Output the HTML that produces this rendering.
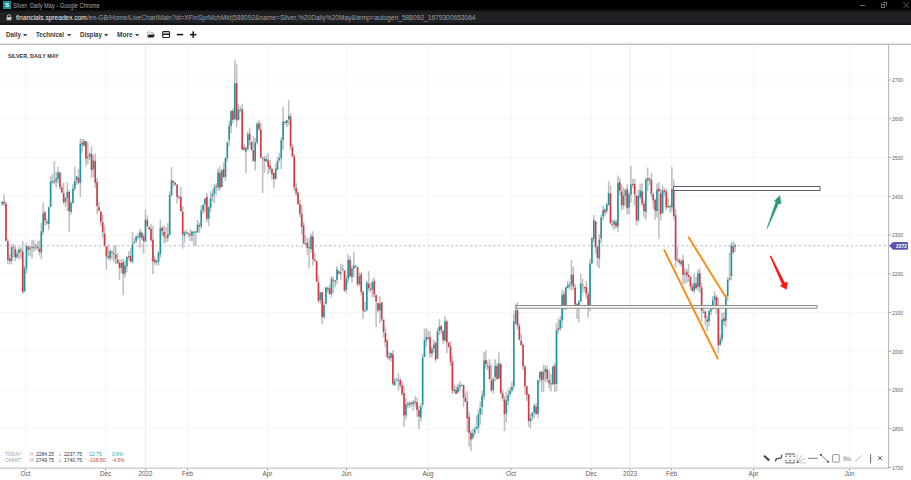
<!DOCTYPE html>
<html><head><meta charset="utf-8">
<style>
html,body{margin:0;padding:0;width:911px;height:480px;overflow:hidden;background:#fff;font-family:"Liberation Sans",sans-serif;}
.abs{position:absolute;}
#tb{left:0;top:0;width:911px;height:10px;background:#000;}
#ab{left:0;top:10px;width:911px;height:15px;background:#141517;}
#ab2{left:0;top:12px;width:911px;height:10.7px;background:#202124;}
.t{position:absolute;white-space:nowrap;line-height:1;}
</style></head><body>
<div id="tb" class="abs"></div>
<div id="ab" class="abs"></div>
<div id="ab2" class="abs"></div>
<!-- title -->
<div class="abs" style="left:3px;top:1.25px;width:7.5px;height:7.5px;background:#0f94a0;"></div>
<div class="t" style="left:4.9px;top:2.3px;font-size:6.2px;font-weight:bold;color:#f4f4f4;">S</div>
<div class="t" id="title" style="left:13px;top:2.7px;font-size:6.4px;font-weight:normal;color:#a8a8a8;transform:scaleX(0.8834);transform-origin:0 0;">Silver, Daily May - Google Chrome</div>
<!-- window controls -->
<div class="abs" style="left:859.5px;top:4.6px;width:5.5px;height:0.8px;background:#6e6e6e;"></div>
<div class="abs" style="left:881px;top:3.5px;width:4px;height:4px;border:0.8px solid #6e6e6e;box-sizing:border-box;"></div>
<div class="abs" style="left:882.5px;top:2.3px;width:4px;height:4px;border-top:0.8px solid #6e6e6e;border-right:0.8px solid #6e6e6e;box-sizing:border-box;"></div>
<svg class="abs" style="left:903px;top:2px" width="7" height="7"><path d="M0.5 0.5L6 6M6 0.5L0.5 6" stroke="#6e6e6e" stroke-width="0.8"/></svg>
<!-- lock -->
<svg class="abs" style="left:6px;top:14px" width="6" height="7"><path d="M1.4 3V2.2a1.6 1.6 0 0 1 3.2 0V3" fill="none" stroke="#c8c8c8" stroke-width="0.9"/><rect x="0.6" y="3" width="4.8" height="3.2" fill="#c8c8c8"/></svg>
<div class="t" id="url" style="left:16px;top:14.6px;font-size:6.8px;font-weight:normal;color:#9aa0a6;transform:scaleX(0.9720);transform-origin:0 0;"><span style="color:#f1f1f1">financials.spreadex.com</span>/en-GB/Home/LiveChartMain?id=XFinSprMchMkt|588092&amp;name=Silver,%20Daily%20May&amp;temp=autogen_588092_1679300653064</div>
<!-- toolbar -->
<div class="abs" style="left:0;top:42.4px;width:911px;height:1.8px;background:linear-gradient(#fff,#dedede);"></div><div class="abs" style="left:0;top:44px;width:911px;height:1px;background:#bdbdbd;"></div>
<div class="t" id="m0" style="left:6px;top:31.6px;font-size:6.6px;font-weight:bold;color:#3a3a3a;transform:scaleX(0.9451);transform-origin:0 0;">Daily</div><svg class="abs" style="left:23.4px;top:33.6px" width="5" height="3"><path d="M0 0H4.4L2.2 2.4Z" fill="#444"/></svg><div class="t" id="m1" style="left:36.2px;top:31.6px;font-size:6.6px;font-weight:bold;color:#3a3a3a;transform:scaleX(0.9353);transform-origin:0 0;">Technical</div><svg class="abs" style="left:66.9px;top:33.6px" width="5" height="3"><path d="M0 0H4.4L2.2 2.4Z" fill="#444"/></svg><div class="t" id="m2" style="left:79.6px;top:31.6px;font-size:6.6px;font-weight:bold;color:#3a3a3a;transform:scaleX(0.9374);transform-origin:0 0;">Display</div><svg class="abs" style="left:104.1px;top:33.6px" width="5" height="3"><path d="M0 0H4.4L2.2 2.4Z" fill="#444"/></svg><div class="t" id="m3" style="left:116.6px;top:31.6px;font-size:6.6px;font-weight:bold;color:#3a3a3a;transform:scaleX(0.9958);transform-origin:0 0;">More</div><svg class="abs" style="left:134.7px;top:33.6px" width="5" height="3"><path d="M0 0H4.4L2.2 2.4Z" fill="#444"/></svg><svg class="abs" style="left:146px;top:30px" width="60" height="10"><path d="M1.4 7V2H3.8L4.5 2.8H7.3V4.4" fill="none" stroke="#9a9a9a" stroke-width="0.8"/><path d="M2.6 4.4H9L7.4 7.4H1.4Z" fill="#222"/><rect x="16.7" y="1.6" width="6.8" height="5.9" rx="0.8" fill="none" stroke="#222" stroke-width="1.1"/><rect x="17" y="3.5" width="6.2" height="1.5" fill="#222"/><rect x="30.8" y="3.85" width="6.4" height="1.5" fill="#111"/><rect x="44" y="3.85" width="6.4" height="1.5" fill="#111"/><rect x="46.45" y="1.4" width="1.5" height="6.4" fill="#111"/></svg>
<!-- chart -->
<svg class="abs" style="left:0;top:0" width="911" height="480">
<rect x="0" y="428.25" width="888" height="1" fill="#f6f6f6"/><rect x="0" y="389.50" width="888" height="1" fill="#f6f6f6"/><rect x="0" y="350.75" width="888" height="1" fill="#f6f6f6"/><rect x="0" y="312.00" width="888" height="1" fill="#f6f6f6"/><rect x="0" y="273.25" width="888" height="1" fill="#f6f6f6"/><rect x="0" y="234.50" width="888" height="1" fill="#f6f6f6"/><rect x="0" y="195.75" width="888" height="1" fill="#f6f6f6"/><rect x="0" y="157.00" width="888" height="1" fill="#f6f6f6"/><rect x="0" y="118.25" width="888" height="1" fill="#f6f6f6"/><rect x="0" y="79.50" width="888" height="1" fill="#f6f6f6"/><rect x="25.0" y="45" width="1" height="422" fill="#f6f6f6"/><rect x="105.0" y="45" width="1" height="422" fill="#f6f6f6"/><rect x="145.0" y="45" width="1" height="422" fill="#ececec"/><rect x="187.0" y="45" width="1" height="422" fill="#f6f6f6"/><rect x="267.0" y="45" width="1" height="422" fill="#f6f6f6"/><rect x="346.0" y="45" width="1" height="422" fill="#f6f6f6"/><rect x="427.5" y="45" width="1" height="422" fill="#f6f6f6"/><rect x="510.5" y="45" width="1" height="422" fill="#f6f6f6"/><rect x="590.5" y="45" width="1" height="422" fill="#f6f6f6"/><rect x="629.5" y="45" width="1" height="422" fill="#ececec"/><rect x="671.0" y="45" width="1" height="422" fill="#f6f6f6"/><rect x="753.0" y="45" width="1" height="422" fill="#f6f6f6"/><rect x="849.0" y="45" width="1" height="422" fill="#f6f6f6"/><line x1="0" y1="245.8" x2="888" y2="245.8" stroke="#b3aee0" stroke-width="1" stroke-dasharray="2.2 2.5"/>
<g fill="#bdc0c3"><rect x="1.48" y="200.67" width="1.55" height="5.12"/><rect x="3.34" y="194.22" width="1.55" height="11.99"/><rect x="5.20" y="201.59" width="1.55" height="40.00"/><rect x="7.06" y="238.67" width="1.55" height="24.92"/><rect x="8.92" y="253.98" width="1.55" height="10.46"/><rect x="10.78" y="244.29" width="1.55" height="20.00"/><rect x="12.64" y="243.90" width="1.55" height="13.37"/><rect x="14.50" y="245.92" width="1.55" height="15.26"/><rect x="16.36" y="250.50" width="1.55" height="8.04"/><rect x="18.22" y="247.02" width="1.55" height="12.35"/><rect x="20.08" y="247.50" width="1.55" height="11.24"/><rect x="21.94" y="241.09" width="1.55" height="52.91"/><rect x="23.80" y="265.35" width="1.55" height="26.35"/><rect x="25.66" y="242.64" width="1.55" height="30.88"/><rect x="27.52" y="245.79" width="1.55" height="10.70"/><rect x="29.38" y="245.65" width="1.55" height="10.24"/><rect x="31.24" y="240.33" width="1.55" height="18.27"/><rect x="33.10" y="239.72" width="1.55" height="12.29"/><rect x="34.96" y="243.68" width="1.55" height="6.69"/><rect x="36.82" y="241.01" width="1.55" height="8.81"/><rect x="38.68" y="240.39" width="1.55" height="14.98"/><rect x="40.54" y="222.84" width="1.55" height="36.41"/><rect x="42.40" y="202.74" width="1.55" height="32.29"/><rect x="44.26" y="211.17" width="1.55" height="14.64"/><rect x="46.12" y="218.92" width="1.55" height="5.86"/><rect x="47.98" y="206.37" width="1.55" height="23.32"/><rect x="49.84" y="176.19" width="1.55" height="30.82"/><rect x="51.70" y="173.63" width="1.55" height="11.04"/><rect x="53.56" y="161.00" width="1.55" height="23.55"/><rect x="55.42" y="171.77" width="1.55" height="16.18"/><rect x="57.28" y="166.66" width="1.55" height="16.64"/><rect x="59.14" y="171.85" width="1.55" height="18.35"/><rect x="61.00" y="184.45" width="1.55" height="8.22"/><rect x="62.86" y="182.67" width="1.55" height="21.48"/><rect x="64.72" y="197.45" width="1.55" height="9.51"/><rect x="66.58" y="182.24" width="1.55" height="28.92"/><rect x="68.44" y="189.92" width="1.55" height="42.08"/><rect x="70.30" y="201.27" width="1.55" height="13.29"/><rect x="72.16" y="184.12" width="1.55" height="19.42"/><rect x="74.02" y="166.76" width="1.55" height="24.18"/><rect x="75.88" y="175.65" width="1.55" height="9.32"/><rect x="77.74" y="168.95" width="1.55" height="15.40"/><rect x="79.60" y="138.12" width="1.55" height="58.84"/><rect x="81.46" y="139.09" width="1.55" height="13.38"/><rect x="83.32" y="139.00" width="1.55" height="7.65"/><rect x="85.18" y="140.76" width="1.55" height="25.69"/><rect x="87.04" y="142.54" width="1.55" height="21.67"/><rect x="88.90" y="152.31" width="1.55" height="7.95"/><rect x="90.76" y="146.12" width="1.55" height="31.87"/><rect x="92.62" y="154.66" width="1.55" height="22.35"/><rect x="94.48" y="153.31" width="1.55" height="34.33"/><rect x="96.34" y="177.86" width="1.55" height="36.40"/><rect x="98.20" y="202.11" width="1.55" height="9.81"/><rect x="100.06" y="211.09" width="1.55" height="15.04"/><rect x="101.92" y="214.35" width="1.55" height="23.19"/><rect x="103.78" y="225.88" width="1.55" height="20.74"/><rect x="105.64" y="245.90" width="1.55" height="24.10"/><rect x="107.50" y="244.40" width="1.55" height="15.29"/><rect x="109.36" y="249.24" width="1.55" height="12.27"/><rect x="111.22" y="251.14" width="1.55" height="8.41"/><rect x="113.08" y="245.47" width="1.55" height="17.13"/><rect x="114.94" y="244.91" width="1.55" height="19.38"/><rect x="116.80" y="253.11" width="1.55" height="10.96"/><rect x="118.66" y="259.72" width="1.55" height="20.28"/><rect x="120.52" y="259.24" width="1.55" height="13.88"/><rect x="122.38" y="259.18" width="1.55" height="35.82"/><rect x="124.24" y="260.35" width="1.55" height="17.18"/><rect x="126.10" y="256.14" width="1.55" height="16.22"/><rect x="127.97" y="251.28" width="1.55" height="8.74"/><rect x="129.82" y="248.09" width="1.55" height="14.52"/><rect x="131.69" y="232.02" width="1.55" height="31.43"/><rect x="133.54" y="237.89" width="1.55" height="6.28"/><rect x="135.41" y="235.15" width="1.55" height="8.20"/><rect x="137.26" y="233.08" width="1.55" height="6.16"/><rect x="139.12" y="228.65" width="1.55" height="19.53"/><rect x="140.98" y="231.30" width="1.55" height="8.85"/><rect x="142.84" y="233.87" width="1.55" height="19.90"/><rect x="144.70" y="209.63" width="1.55" height="32.71"/><rect x="146.56" y="215.46" width="1.55" height="11.43"/><rect x="148.42" y="226.90" width="1.55" height="3.29"/><rect x="150.28" y="224.25" width="1.55" height="17.28"/><rect x="152.14" y="225.85" width="1.55" height="48.15"/><rect x="154.00" y="256.18" width="1.55" height="8.45"/><rect x="155.86" y="259.65" width="1.55" height="5.55"/><rect x="157.72" y="251.14" width="1.55" height="14.34"/><rect x="159.58" y="219.71" width="1.55" height="38.04"/><rect x="161.44" y="225.87" width="1.55" height="10.30"/><rect x="163.31" y="225.73" width="1.55" height="17.54"/><rect x="165.16" y="227.43" width="1.55" height="14.68"/><rect x="167.03" y="223.24" width="1.55" height="18.58"/><rect x="168.88" y="191.18" width="1.55" height="44.36"/><rect x="170.75" y="167.00" width="1.55" height="29.35"/><rect x="172.60" y="180.65" width="1.55" height="6.65"/><rect x="174.47" y="182.24" width="1.55" height="3.58"/><rect x="176.32" y="184.07" width="1.55" height="19.48"/><rect x="178.19" y="195.00" width="1.55" height="4.24"/><rect x="180.04" y="187.04" width="1.55" height="24.54"/><rect x="181.91" y="206.22" width="1.55" height="42.45"/><rect x="183.76" y="230.61" width="1.55" height="12.22"/><rect x="185.62" y="229.60" width="1.55" height="4.50"/><rect x="187.48" y="232.80" width="1.55" height="4.21"/><rect x="189.34" y="229.06" width="1.55" height="11.95"/><rect x="191.20" y="230.19" width="1.55" height="11.05"/><rect x="193.06" y="230.84" width="1.55" height="15.35"/><rect x="194.92" y="230.53" width="1.55" height="15.47"/><rect x="196.78" y="219.70" width="1.55" height="12.78"/><rect x="198.64" y="223.08" width="1.55" height="9.80"/><rect x="200.50" y="205.56" width="1.55" height="23.56"/><rect x="202.37" y="203.78" width="1.55" height="10.30"/><rect x="204.22" y="198.34" width="1.55" height="13.82"/><rect x="206.09" y="193.21" width="1.55" height="28.75"/><rect x="207.94" y="205.79" width="1.55" height="20.27"/><rect x="209.81" y="191.31" width="1.55" height="21.03"/><rect x="211.66" y="189.83" width="1.55" height="11.67"/><rect x="213.53" y="184.17" width="1.55" height="18.84"/><rect x="215.38" y="182.98" width="1.55" height="12.32"/><rect x="217.25" y="168.70" width="1.55" height="22.05"/><rect x="219.10" y="166.13" width="1.55" height="24.40"/><rect x="220.97" y="169.94" width="1.55" height="17.13"/><rect x="222.82" y="162.66" width="1.55" height="14.76"/><rect x="224.69" y="157.55" width="1.55" height="23.44"/><rect x="226.54" y="141.54" width="1.55" height="20.11"/><rect x="228.41" y="120.79" width="1.55" height="25.40"/><rect x="230.26" y="110.33" width="1.55" height="22.89"/><rect x="232.12" y="108.46" width="1.55" height="14.73"/><rect x="233.98" y="60.00" width="1.55" height="59.51"/><rect x="235.84" y="64.00" width="1.55" height="63.48"/><rect x="237.70" y="103.99" width="1.55" height="16.46"/><rect x="239.56" y="106.56" width="1.55" height="5.87"/><rect x="241.43" y="103.72" width="1.55" height="46.31"/><rect x="243.28" y="143.59" width="1.55" height="7.48"/><rect x="245.15" y="146.32" width="1.55" height="26.68"/><rect x="247.00" y="131.35" width="1.55" height="18.58"/><rect x="248.87" y="127.45" width="1.55" height="18.14"/><rect x="250.72" y="140.84" width="1.55" height="9.41"/><rect x="252.59" y="135.80" width="1.55" height="26.24"/><rect x="254.44" y="137.98" width="1.55" height="32.40"/><rect x="256.31" y="121.60" width="1.55" height="22.99"/><rect x="258.17" y="119.93" width="1.55" height="11.41"/><rect x="260.03" y="122.49" width="1.55" height="35.57"/><rect x="261.89" y="157.16" width="1.55" height="35.84"/><rect x="263.75" y="155.80" width="1.55" height="17.02"/><rect x="265.61" y="155.63" width="1.55" height="6.17"/><rect x="267.47" y="153.33" width="1.55" height="20.99"/><rect x="269.33" y="159.54" width="1.55" height="12.85"/><rect x="271.19" y="168.22" width="1.55" height="11.67"/><rect x="273.05" y="172.70" width="1.55" height="15.30"/><rect x="274.91" y="163.30" width="1.55" height="16.36"/><rect x="276.77" y="156.72" width="1.55" height="13.42"/><rect x="278.62" y="152.84" width="1.55" height="9.14"/><rect x="280.49" y="137.04" width="1.55" height="32.00"/><rect x="282.35" y="107.05" width="1.55" height="42.85"/><rect x="284.21" y="120.90" width="1.55" height="4.22"/><rect x="286.07" y="119.94" width="1.55" height="7.05"/><rect x="287.93" y="100.00" width="1.55" height="24.88"/><rect x="289.79" y="112.99" width="1.55" height="37.31"/><rect x="291.65" y="143.98" width="1.55" height="13.01"/><rect x="293.51" y="154.06" width="1.55" height="36.69"/><rect x="295.37" y="183.19" width="1.55" height="13.13"/><rect x="297.23" y="191.79" width="1.55" height="13.11"/><rect x="299.09" y="199.70" width="1.55" height="17.81"/><rect x="300.95" y="204.68" width="1.55" height="29.69"/><rect x="302.81" y="221.61" width="1.55" height="22.61"/><rect x="304.67" y="235.21" width="1.55" height="9.95"/><rect x="306.53" y="237.49" width="1.55" height="17.47"/><rect x="308.39" y="238.41" width="1.55" height="29.59"/><rect x="310.25" y="233.30" width="1.55" height="19.26"/><rect x="312.11" y="231.31" width="1.55" height="34.09"/><rect x="313.97" y="252.72" width="1.55" height="9.14"/><rect x="315.83" y="260.39" width="1.55" height="22.05"/><rect x="317.69" y="275.29" width="1.55" height="27.62"/><rect x="319.55" y="291.63" width="1.55" height="12.46"/><rect x="321.41" y="291.82" width="1.55" height="32.18"/><rect x="323.27" y="301.59" width="1.55" height="17.27"/><rect x="325.13" y="287.12" width="1.55" height="17.75"/><rect x="326.99" y="286.61" width="1.55" height="5.98"/><rect x="328.85" y="284.66" width="1.55" height="9.73"/><rect x="330.71" y="276.40" width="1.55" height="21.17"/><rect x="332.57" y="276.25" width="1.55" height="16.87"/><rect x="334.43" y="279.81" width="1.55" height="7.51"/><rect x="336.29" y="266.11" width="1.55" height="17.96"/><rect x="338.15" y="270.30" width="1.55" height="4.40"/><rect x="340.01" y="263.56" width="1.55" height="16.55"/><rect x="341.87" y="264.39" width="1.55" height="7.16"/><rect x="343.73" y="270.47" width="1.55" height="21.41"/><rect x="345.59" y="275.42" width="1.55" height="17.79"/><rect x="347.45" y="254.00" width="1.55" height="29.51"/><rect x="349.31" y="256.45" width="1.55" height="20.63"/><rect x="351.17" y="266.09" width="1.55" height="16.35"/><rect x="353.03" y="252.00" width="1.55" height="25.16"/><rect x="354.89" y="264.75" width="1.55" height="2.81"/><rect x="356.75" y="266.82" width="1.55" height="19.67"/><rect x="358.61" y="272.49" width="1.55" height="13.58"/><rect x="360.47" y="272.30" width="1.55" height="23.14"/><rect x="362.33" y="291.00" width="1.55" height="28.04"/><rect x="364.19" y="301.87" width="1.55" height="9.93"/><rect x="366.05" y="280.92" width="1.55" height="29.72"/><rect x="367.91" y="271.21" width="1.55" height="20.32"/><rect x="369.77" y="282.98" width="1.55" height="9.60"/><rect x="371.63" y="279.24" width="1.55" height="18.25"/><rect x="373.49" y="277.49" width="1.55" height="19.86"/><rect x="375.35" y="294.72" width="1.55" height="32.28"/><rect x="377.21" y="302.75" width="1.55" height="9.48"/><rect x="379.07" y="296.32" width="1.55" height="27.17"/><rect x="380.93" y="301.95" width="1.55" height="19.54"/><rect x="382.79" y="318.44" width="1.55" height="19.09"/><rect x="384.65" y="327.22" width="1.55" height="20.18"/><rect x="386.51" y="339.16" width="1.55" height="20.11"/><rect x="388.37" y="351.84" width="1.55" height="8.48"/><rect x="390.23" y="352.91" width="1.55" height="8.73"/><rect x="392.09" y="350.26" width="1.55" height="35.63"/><rect x="393.95" y="377.74" width="1.55" height="7.66"/><rect x="395.81" y="377.46" width="1.55" height="3.55"/><rect x="397.67" y="373.55" width="1.55" height="16.92"/><rect x="399.53" y="377.68" width="1.55" height="10.10"/><rect x="401.39" y="380.76" width="1.55" height="15.15"/><rect x="403.25" y="385.44" width="1.55" height="41.56"/><rect x="405.11" y="398.05" width="1.55" height="21.37"/><rect x="406.97" y="401.71" width="1.55" height="6.03"/><rect x="408.83" y="400.94" width="1.55" height="6.93"/><rect x="410.69" y="401.46" width="1.55" height="5.44"/><rect x="412.55" y="400.01" width="1.55" height="10.58"/><rect x="414.41" y="396.42" width="1.55" height="10.22"/><rect x="416.27" y="397.85" width="1.55" height="19.02"/><rect x="418.13" y="405.63" width="1.55" height="23.41"/><rect x="419.99" y="403.34" width="1.55" height="18.42"/><rect x="421.85" y="353.74" width="1.55" height="53.53"/><rect x="423.71" y="328.75" width="1.55" height="28.46"/><rect x="425.57" y="328.10" width="1.55" height="18.51"/><rect x="427.43" y="330.61" width="1.55" height="9.00"/><rect x="429.29" y="331.15" width="1.55" height="26.70"/><rect x="431.15" y="346.06" width="1.55" height="11.16"/><rect x="433.01" y="339.96" width="1.55" height="12.25"/><rect x="434.87" y="341.80" width="1.55" height="20.29"/><rect x="436.73" y="328.29" width="1.55" height="30.66"/><rect x="438.59" y="319.00" width="1.55" height="16.27"/><rect x="440.45" y="325.29" width="1.55" height="8.47"/><rect x="442.31" y="329.46" width="1.55" height="14.45"/><rect x="444.17" y="315.92" width="1.55" height="25.49"/><rect x="446.03" y="319.80" width="1.55" height="33.48"/><rect x="447.89" y="342.52" width="1.55" height="5.68"/><rect x="449.75" y="341.08" width="1.55" height="24.93"/><rect x="451.61" y="355.64" width="1.55" height="38.67"/><rect x="453.47" y="384.35" width="1.55" height="8.66"/><rect x="455.33" y="385.98" width="1.55" height="8.09"/><rect x="457.19" y="383.84" width="1.55" height="9.44"/><rect x="459.05" y="381.29" width="1.55" height="9.85"/><rect x="460.91" y="383.50" width="1.55" height="2.65"/><rect x="462.77" y="384.36" width="1.55" height="22.61"/><rect x="464.63" y="392.75" width="1.55" height="9.37"/><rect x="466.49" y="390.87" width="1.55" height="40.99"/><rect x="468.35" y="411.75" width="1.55" height="35.05"/><rect x="470.21" y="430.28" width="1.55" height="20.72"/><rect x="472.07" y="428.57" width="1.55" height="11.07"/><rect x="473.93" y="426.20" width="1.55" height="9.19"/><rect x="475.79" y="415.32" width="1.55" height="13.96"/><rect x="477.65" y="409.44" width="1.55" height="23.73"/><rect x="479.51" y="401.54" width="1.55" height="23.06"/><rect x="481.37" y="391.00" width="1.55" height="23.79"/><rect x="483.23" y="352.00" width="1.55" height="47.82"/><rect x="485.09" y="350.39" width="1.55" height="18.74"/><rect x="486.95" y="361.43" width="1.55" height="8.86"/><rect x="488.81" y="359.08" width="1.55" height="20.46"/><rect x="490.67" y="363.97" width="1.55" height="28.18"/><rect x="492.53" y="377.29" width="1.55" height="16.41"/><rect x="494.39" y="359.31" width="1.55" height="21.85"/><rect x="496.25" y="363.05" width="1.55" height="16.58"/><rect x="498.11" y="352.51" width="1.55" height="26.79"/><rect x="499.97" y="363.32" width="1.55" height="30.88"/><rect x="501.83" y="389.47" width="1.55" height="11.86"/><rect x="503.69" y="396.02" width="1.55" height="34.98"/><rect x="505.55" y="392.42" width="1.55" height="30.21"/><rect x="507.41" y="389.13" width="1.55" height="16.04"/><rect x="509.27" y="386.68" width="1.55" height="9.91"/><rect x="511.13" y="381.54" width="1.55" height="11.11"/><rect x="512.99" y="313.80" width="1.55" height="75.63"/><rect x="514.85" y="303.84" width="1.55" height="21.24"/><rect x="516.71" y="301.91" width="1.55" height="27.33"/><rect x="518.57" y="323.03" width="1.55" height="17.69"/><rect x="520.43" y="333.27" width="1.55" height="12.31"/><rect x="522.29" y="343.20" width="1.55" height="27.04"/><rect x="524.15" y="364.95" width="1.55" height="29.32"/><rect x="526.00" y="386.09" width="1.55" height="14.89"/><rect x="527.87" y="393.91" width="1.55" height="33.09"/><rect x="529.73" y="413.69" width="1.55" height="14.94"/><rect x="531.59" y="411.63" width="1.55" height="9.00"/><rect x="533.45" y="403.88" width="1.55" height="14.59"/><rect x="535.31" y="402.99" width="1.55" height="11.81"/><rect x="537.17" y="379.75" width="1.55" height="37.88"/><rect x="539.03" y="371.83" width="1.55" height="10.95"/><rect x="540.88" y="370.68" width="1.55" height="21.03"/><rect x="542.75" y="364.71" width="1.55" height="27.24"/><rect x="544.61" y="365.55" width="1.55" height="16.50"/><rect x="546.47" y="365.34" width="1.55" height="16.57"/><rect x="548.33" y="370.10" width="1.55" height="18.46"/><rect x="550.19" y="373.84" width="1.55" height="17.80"/><rect x="552.05" y="365.32" width="1.55" height="19.40"/><rect x="553.91" y="362.98" width="1.55" height="29.05"/><rect x="555.76" y="322.73" width="1.55" height="68.66"/><rect x="557.62" y="318.63" width="1.55" height="15.11"/><rect x="559.49" y="316.24" width="1.55" height="14.51"/><rect x="561.35" y="289.52" width="1.55" height="38.62"/><rect x="563.21" y="291.11" width="1.55" height="19.04"/><rect x="565.07" y="286.84" width="1.55" height="23.15"/><rect x="566.93" y="280.99" width="1.55" height="7.52"/><rect x="568.79" y="281.72" width="1.55" height="7.86"/><rect x="570.65" y="260.00" width="1.55" height="30.40"/><rect x="572.50" y="266.60" width="1.55" height="23.49"/><rect x="574.37" y="284.10" width="1.55" height="21.75"/><rect x="576.23" y="302.85" width="1.55" height="16.15"/><rect x="578.09" y="299.90" width="1.55" height="22.59"/><rect x="579.95" y="273.73" width="1.55" height="28.19"/><rect x="581.81" y="278.84" width="1.55" height="14.67"/><rect x="583.67" y="286.34" width="1.55" height="5.30"/><rect x="585.53" y="281.31" width="1.55" height="17.40"/><rect x="587.38" y="291.49" width="1.55" height="26.08"/><rect x="589.25" y="259.37" width="1.55" height="52.04"/><rect x="591.11" y="237.10" width="1.55" height="27.05"/><rect x="592.97" y="215.01" width="1.55" height="27.35"/><rect x="594.83" y="220.67" width="1.55" height="33.08"/><rect x="596.69" y="246.69" width="1.55" height="19.80"/><rect x="598.55" y="234.08" width="1.55" height="34.21"/><rect x="600.41" y="214.78" width="1.55" height="28.68"/><rect x="602.27" y="205.93" width="1.55" height="14.63"/><rect x="604.12" y="208.15" width="1.55" height="8.30"/><rect x="605.99" y="202.68" width="1.55" height="10.67"/><rect x="607.85" y="181.00" width="1.55" height="24.53"/><rect x="609.71" y="185.17" width="1.55" height="39.14"/><rect x="611.57" y="219.73" width="1.55" height="8.16"/><rect x="613.43" y="219.42" width="1.55" height="10.61"/><rect x="615.29" y="219.37" width="1.55" height="9.11"/><rect x="617.15" y="175.47" width="1.55" height="56.40"/><rect x="619.00" y="178.09" width="1.55" height="17.20"/><rect x="620.87" y="184.54" width="1.55" height="25.79"/><rect x="622.73" y="187.27" width="1.55" height="21.66"/><rect x="624.59" y="188.48" width="1.55" height="17.87"/><rect x="626.45" y="184.29" width="1.55" height="30.12"/><rect x="628.31" y="191.43" width="1.55" height="22.78"/><rect x="630.17" y="166.00" width="1.55" height="36.78"/><rect x="632.03" y="178.80" width="1.55" height="8.85"/><rect x="633.88" y="178.69" width="1.55" height="27.01"/><rect x="635.75" y="194.71" width="1.55" height="30.72"/><rect x="637.61" y="189.55" width="1.55" height="32.49"/><rect x="639.47" y="184.14" width="1.55" height="15.21"/><rect x="641.33" y="183.18" width="1.55" height="22.55"/><rect x="643.19" y="200.54" width="1.55" height="17.02"/><rect x="645.05" y="177.81" width="1.55" height="42.03"/><rect x="646.91" y="167.42" width="1.55" height="23.63"/><rect x="648.77" y="177.62" width="1.55" height="7.57"/><rect x="650.62" y="172.88" width="1.55" height="24.60"/><rect x="652.49" y="192.76" width="1.55" height="16.09"/><rect x="654.35" y="198.23" width="1.55" height="21.62"/><rect x="656.21" y="183.49" width="1.55" height="34.08"/><rect x="658.07" y="182.06" width="1.55" height="56.94"/><rect x="659.93" y="188.87" width="1.55" height="31.28"/><rect x="661.79" y="185.74" width="1.55" height="28.01"/><rect x="663.65" y="187.89" width="1.55" height="8.32"/><rect x="665.50" y="188.36" width="1.55" height="21.71"/><rect x="667.37" y="197.77" width="1.55" height="9.88"/><rect x="669.23" y="204.39" width="1.55" height="8.53"/><rect x="671.09" y="167.00" width="1.55" height="44.56"/><rect x="672.95" y="179.42" width="1.55" height="40.07"/><rect x="674.81" y="209.05" width="1.55" height="58.40"/><rect x="676.67" y="247.00" width="1.55" height="14.93"/><rect x="678.53" y="258.11" width="1.55" height="6.61"/><rect x="680.39" y="259.30" width="1.55" height="7.29"/><rect x="682.25" y="254.90" width="1.55" height="29.50"/><rect x="684.11" y="267.69" width="1.55" height="16.00"/><rect x="685.97" y="269.11" width="1.55" height="13.72"/><rect x="687.83" y="264.03" width="1.55" height="18.03"/><rect x="689.69" y="276.54" width="1.55" height="13.30"/><rect x="691.55" y="283.73" width="1.55" height="7.87"/><rect x="693.41" y="273.25" width="1.55" height="20.14"/><rect x="695.27" y="276.81" width="1.55" height="12.68"/><rect x="697.12" y="269.59" width="1.55" height="21.07"/><rect x="698.99" y="268.52" width="1.55" height="24.32"/><rect x="700.85" y="282.48" width="1.55" height="39.31"/><rect x="702.71" y="305.76" width="1.55" height="7.43"/><rect x="704.57" y="310.16" width="1.55" height="15.10"/><rect x="706.43" y="315.54" width="1.55" height="15.46"/><rect x="708.29" y="309.63" width="1.55" height="16.91"/><rect x="710.15" y="307.32" width="1.55" height="7.98"/><rect x="712.00" y="295.86" width="1.55" height="14.24"/><rect x="713.87" y="291.17" width="1.55" height="16.63"/><rect x="715.73" y="294.88" width="1.55" height="18.70"/><rect x="717.59" y="297.63" width="1.55" height="55.37"/><rect x="719.45" y="334.98" width="1.55" height="11.01"/><rect x="721.31" y="312.73" width="1.55" height="29.83"/><rect x="723.17" y="312.17" width="1.55" height="13.67"/><rect x="725.03" y="294.06" width="1.55" height="33.22"/><rect x="726.89" y="276.96" width="1.55" height="23.90"/><rect x="728.75" y="253.00" width="1.55" height="27.75"/><rect x="730.61" y="242.21" width="1.55" height="38.20"/><rect x="732.47" y="241.00" width="1.55" height="12.83"/><rect x="734.33" y="243.10" width="1.55" height="8.92"/></g><g fill="#17979f"><rect x="1.48" y="201.85" width="1.55" height="2.30"/><rect x="10.78" y="247.18" width="1.55" height="13.77"/><rect x="16.36" y="253.79" width="1.55" height="3.46"/><rect x="18.22" y="249.73" width="1.55" height="3.29"/><rect x="23.80" y="267.94" width="1.55" height="23.44"/><rect x="25.66" y="246.12" width="1.55" height="22.48"/><rect x="29.38" y="248.31" width="1.55" height="1.00"/><rect x="31.24" y="247.03" width="1.55" height="1.00"/><rect x="34.96" y="245.54" width="1.55" height="1.00"/><rect x="40.54" y="231.31" width="1.55" height="21.27"/><rect x="42.40" y="213.57" width="1.55" height="18.16"/><rect x="47.98" y="207.19" width="1.55" height="16.54"/><rect x="49.84" y="181.60" width="1.55" height="25.26"/><rect x="51.70" y="181.25" width="1.55" height="1.11"/><rect x="55.42" y="178.32" width="1.55" height="3.03"/><rect x="57.28" y="172.53" width="1.55" height="6.30"/><rect x="64.72" y="197.52" width="1.55" height="4.64"/><rect x="66.58" y="191.80" width="1.55" height="6.03"/><rect x="70.30" y="202.74" width="1.55" height="9.11"/><rect x="72.16" y="188.46" width="1.55" height="14.57"/><rect x="74.02" y="180.95" width="1.55" height="7.46"/><rect x="75.88" y="176.61" width="1.55" height="3.41"/><rect x="79.60" y="143.80" width="1.55" height="39.22"/><rect x="83.32" y="141.11" width="1.55" height="4.55"/><rect x="87.04" y="156.81" width="1.55" height="1.43"/><rect x="88.90" y="153.55" width="1.55" height="3.05"/><rect x="92.62" y="160.37" width="1.55" height="8.99"/><rect x="109.36" y="250.89" width="1.55" height="7.45"/><rect x="120.52" y="263.07" width="1.55" height="4.85"/><rect x="124.24" y="265.59" width="1.55" height="7.82"/><rect x="126.10" y="257.00" width="1.55" height="9.23"/><rect x="131.69" y="244.29" width="1.55" height="17.46"/><rect x="133.54" y="241.66" width="1.55" height="1.08"/><rect x="135.41" y="236.66" width="1.55" height="4.30"/><rect x="137.26" y="236.54" width="1.55" height="1.00"/><rect x="139.12" y="231.80" width="1.55" height="5.55"/><rect x="144.70" y="219.44" width="1.55" height="22.27"/><rect x="155.86" y="261.01" width="1.55" height="1.47"/><rect x="157.72" y="252.83" width="1.55" height="9.00"/><rect x="159.58" y="227.80" width="1.55" height="26.49"/><rect x="167.03" y="234.48" width="1.55" height="3.46"/><rect x="168.88" y="194.96" width="1.55" height="39.93"/><rect x="170.75" y="180.28" width="1.55" height="14.99"/><rect x="178.19" y="197.26" width="1.55" height="1.00"/><rect x="183.76" y="232.59" width="1.55" height="3.11"/><rect x="185.62" y="232.19" width="1.55" height="1.00"/><rect x="191.20" y="231.73" width="1.55" height="3.95"/><rect x="193.06" y="231.95" width="1.55" height="1.00"/><rect x="194.92" y="231.50" width="1.55" height="1.00"/><rect x="196.78" y="224.79" width="1.55" height="7.65"/><rect x="200.50" y="210.47" width="1.55" height="15.85"/><rect x="202.37" y="205.05" width="1.55" height="5.46"/><rect x="204.22" y="198.37" width="1.55" height="6.18"/><rect x="207.94" y="207.34" width="1.55" height="11.36"/><rect x="209.81" y="198.10" width="1.55" height="9.66"/><rect x="211.66" y="193.89" width="1.55" height="2.75"/><rect x="213.53" y="187.45" width="1.55" height="6.40"/><rect x="217.25" y="172.02" width="1.55" height="15.09"/><rect x="220.97" y="170.36" width="1.55" height="16.68"/><rect x="224.69" y="157.88" width="1.55" height="19.16"/><rect x="226.54" y="142.42" width="1.55" height="15.74"/><rect x="228.41" y="125.90" width="1.55" height="14.35"/><rect x="230.26" y="111.10" width="1.55" height="14.96"/><rect x="233.98" y="82.98" width="1.55" height="36.19"/><rect x="237.70" y="109.78" width="1.55" height="10.07"/><rect x="239.56" y="109.28" width="1.55" height="1.00"/><rect x="245.15" y="148.36" width="1.55" height="3.29"/><rect x="247.00" y="134.46" width="1.55" height="14.66"/><rect x="254.44" y="142.35" width="1.55" height="18.92"/><rect x="256.31" y="124.00" width="1.55" height="18.36"/><rect x="261.89" y="157.41" width="1.55" height="1.00"/><rect x="265.61" y="159.00" width="1.55" height="2.57"/><rect x="274.91" y="168.28" width="1.55" height="10.55"/><rect x="276.77" y="160.71" width="1.55" height="8.82"/><rect x="278.62" y="157.72" width="1.55" height="2.43"/><rect x="280.49" y="140.18" width="1.55" height="17.95"/><rect x="282.35" y="121.58" width="1.55" height="18.61"/><rect x="286.07" y="120.22" width="1.55" height="2.76"/><rect x="287.93" y="115.86" width="1.55" height="3.65"/><rect x="304.67" y="243.05" width="1.55" height="1.00"/><rect x="308.39" y="247.21" width="1.55" height="1.00"/><rect x="310.25" y="236.15" width="1.55" height="12.91"/><rect x="319.55" y="292.51" width="1.55" height="7.67"/><rect x="323.27" y="305.10" width="1.55" height="11.82"/><rect x="325.13" y="287.32" width="1.55" height="16.20"/><rect x="330.71" y="278.51" width="1.55" height="15.65"/><rect x="336.29" y="269.26" width="1.55" height="10.68"/><rect x="340.01" y="272.21" width="1.55" height="1.46"/><rect x="341.87" y="268.61" width="1.55" height="1.00"/><rect x="345.59" y="278.70" width="1.55" height="11.18"/><rect x="347.45" y="260.02" width="1.55" height="18.73"/><rect x="351.17" y="268.51" width="1.55" height="8.95"/><rect x="353.03" y="265.65" width="1.55" height="3.14"/><rect x="354.89" y="265.78" width="1.55" height="1.00"/><rect x="358.61" y="276.21" width="1.55" height="7.92"/><rect x="364.19" y="310.60" width="1.55" height="1.00"/><rect x="366.05" y="282.74" width="1.55" height="27.50"/><rect x="371.63" y="282.34" width="1.55" height="7.09"/><rect x="379.07" y="303.74" width="1.55" height="6.80"/><rect x="390.23" y="352.97" width="1.55" height="4.77"/><rect x="393.95" y="381.51" width="1.55" height="3.72"/><rect x="395.81" y="379.87" width="1.55" height="1.00"/><rect x="397.67" y="379.76" width="1.55" height="1.00"/><rect x="405.11" y="404.27" width="1.55" height="11.04"/><rect x="406.97" y="403.93" width="1.55" height="1.09"/><rect x="408.83" y="402.97" width="1.55" height="2.04"/><rect x="412.55" y="401.85" width="1.55" height="2.45"/><rect x="419.99" y="406.70" width="1.55" height="10.84"/><rect x="421.85" y="357.33" width="1.55" height="47.34"/><rect x="423.71" y="339.94" width="1.55" height="16.85"/><rect x="425.57" y="337.06" width="1.55" height="3.57"/><rect x="431.15" y="348.64" width="1.55" height="5.21"/><rect x="433.01" y="344.64" width="1.55" height="3.76"/><rect x="436.73" y="331.53" width="1.55" height="27.23"/><rect x="438.59" y="326.53" width="1.55" height="4.64"/><rect x="444.17" y="321.12" width="1.55" height="19.71"/><rect x="453.47" y="389.62" width="1.55" height="1.55"/><rect x="457.19" y="387.09" width="1.55" height="5.35"/><rect x="459.05" y="385.10" width="1.55" height="2.05"/><rect x="460.91" y="385.06" width="1.55" height="1.00"/><rect x="472.07" y="433.33" width="1.55" height="4.37"/><rect x="473.93" y="429.52" width="1.55" height="3.34"/><rect x="475.79" y="427.13" width="1.55" height="1.98"/><rect x="477.65" y="414.12" width="1.55" height="13.62"/><rect x="479.51" y="408.37" width="1.55" height="5.87"/><rect x="481.37" y="395.45" width="1.55" height="11.38"/><rect x="483.23" y="360.55" width="1.55" height="35.55"/><rect x="492.53" y="378.98" width="1.55" height="11.12"/><rect x="494.39" y="365.89" width="1.55" height="11.32"/><rect x="498.11" y="363.52" width="1.55" height="14.90"/><rect x="505.55" y="400.52" width="1.55" height="12.97"/><rect x="507.41" y="395.24" width="1.55" height="5.73"/><rect x="509.27" y="390.72" width="1.55" height="3.51"/><rect x="511.13" y="386.86" width="1.55" height="3.95"/><rect x="512.99" y="321.60" width="1.55" height="64.57"/><rect x="514.85" y="310.01" width="1.55" height="13.32"/><rect x="529.73" y="418.12" width="1.55" height="3.07"/><rect x="531.59" y="412.61" width="1.55" height="4.05"/><rect x="533.45" y="405.39" width="1.55" height="6.93"/><rect x="537.17" y="380.08" width="1.55" height="33.74"/><rect x="539.03" y="371.94" width="1.55" height="6.21"/><rect x="542.75" y="372.05" width="1.55" height="7.44"/><rect x="544.61" y="368.87" width="1.55" height="3.47"/><rect x="552.05" y="366.81" width="1.55" height="17.64"/><rect x="555.76" y="329.73" width="1.55" height="54.39"/><rect x="559.49" y="320.24" width="1.55" height="8.31"/><rect x="561.35" y="295.12" width="1.55" height="25.25"/><rect x="565.07" y="287.22" width="1.55" height="19.25"/><rect x="566.93" y="284.96" width="1.55" height="3.02"/><rect x="568.79" y="284.81" width="1.55" height="1.40"/><rect x="570.65" y="274.69" width="1.55" height="9.90"/><rect x="578.09" y="301.40" width="1.55" height="6.77"/><rect x="579.95" y="283.70" width="1.55" height="17.73"/><rect x="589.25" y="263.61" width="1.55" height="44.77"/><rect x="591.11" y="238.20" width="1.55" height="25.20"/><rect x="592.97" y="220.13" width="1.55" height="18.67"/><rect x="598.55" y="239.69" width="1.55" height="18.90"/><rect x="600.41" y="217.48" width="1.55" height="21.09"/><rect x="602.27" y="210.12" width="1.55" height="6.32"/><rect x="605.99" y="204.39" width="1.55" height="6.46"/><rect x="607.85" y="193.01" width="1.55" height="12.10"/><rect x="613.43" y="221.06" width="1.55" height="3.44"/><rect x="617.15" y="182.88" width="1.55" height="43.54"/><rect x="622.73" y="195.53" width="1.55" height="9.52"/><rect x="624.59" y="190.34" width="1.55" height="5.46"/><rect x="628.31" y="194.25" width="1.55" height="13.21"/><rect x="630.17" y="184.51" width="1.55" height="10.22"/><rect x="637.61" y="195.87" width="1.55" height="24.62"/><rect x="639.47" y="190.56" width="1.55" height="6.50"/><rect x="645.05" y="179.77" width="1.55" height="32.42"/><rect x="646.91" y="178.21" width="1.55" height="2.41"/><rect x="656.21" y="189.68" width="1.55" height="21.35"/><rect x="661.79" y="190.46" width="1.55" height="22.43"/><rect x="667.37" y="206.08" width="1.55" height="1.43"/><rect x="671.09" y="189.23" width="1.55" height="18.18"/><rect x="680.39" y="261.11" width="1.55" height="3.02"/><rect x="684.11" y="273.09" width="1.55" height="1.00"/><rect x="693.41" y="283.30" width="1.55" height="7.55"/><rect x="697.12" y="273.42" width="1.55" height="13.41"/><rect x="702.71" y="311.74" width="1.55" height="1.05"/><rect x="708.29" y="310.98" width="1.55" height="10.17"/><rect x="710.15" y="309.33" width="1.55" height="2.13"/><rect x="712.00" y="300.29" width="1.55" height="8.32"/><rect x="713.87" y="296.37" width="1.55" height="3.83"/><rect x="719.45" y="339.17" width="1.55" height="5.48"/><rect x="721.31" y="319.39" width="1.55" height="19.80"/><rect x="725.03" y="296.37" width="1.55" height="24.30"/><rect x="726.89" y="279.83" width="1.55" height="16.05"/><rect x="728.75" y="278.02" width="1.55" height="1.43"/><rect x="730.61" y="245.20" width="1.55" height="31.07"/><rect x="734.33" y="245.40" width="1.55" height="1.60"/></g><g fill="#d6343f"><rect x="3.34" y="201.68" width="1.55" height="1.77"/><rect x="5.20" y="203.64" width="1.55" height="36.98"/><rect x="7.06" y="241.31" width="1.55" height="18.69"/><rect x="8.92" y="258.61" width="1.55" height="2.38"/><rect x="12.64" y="247.34" width="1.55" height="1.00"/><rect x="14.50" y="249.14" width="1.55" height="8.19"/><rect x="20.08" y="249.72" width="1.55" height="1.00"/><rect x="21.94" y="251.56" width="1.55" height="40.47"/><rect x="27.52" y="246.41" width="1.55" height="3.33"/><rect x="33.10" y="247.22" width="1.55" height="1.00"/><rect x="36.82" y="246.74" width="1.55" height="1.59"/><rect x="38.68" y="248.68" width="1.55" height="3.47"/><rect x="44.26" y="212.12" width="1.55" height="8.38"/><rect x="46.12" y="221.79" width="1.55" height="1.42"/><rect x="53.56" y="181.14" width="1.55" height="1.03"/><rect x="59.14" y="172.64" width="1.55" height="14.57"/><rect x="61.00" y="187.43" width="1.55" height="5.24"/><rect x="62.86" y="193.12" width="1.55" height="9.34"/><rect x="68.44" y="191.99" width="1.55" height="19.33"/><rect x="77.74" y="177.80" width="1.55" height="4.72"/><rect x="81.46" y="142.64" width="1.55" height="2.06"/><rect x="85.18" y="141.22" width="1.55" height="17.26"/><rect x="90.76" y="154.06" width="1.55" height="16.07"/><rect x="94.48" y="160.97" width="1.55" height="21.79"/><rect x="96.34" y="181.85" width="1.55" height="24.15"/><rect x="98.20" y="207.25" width="1.55" height="3.22"/><rect x="100.06" y="211.59" width="1.55" height="10.23"/><rect x="101.92" y="222.14" width="1.55" height="10.09"/><rect x="103.78" y="233.43" width="1.55" height="12.25"/><rect x="105.64" y="246.50" width="1.55" height="10.06"/><rect x="107.50" y="256.34" width="1.55" height="1.34"/><rect x="111.22" y="251.55" width="1.55" height="1.10"/><rect x="113.08" y="253.22" width="1.55" height="1.00"/><rect x="114.94" y="254.67" width="1.55" height="3.99"/><rect x="116.80" y="259.51" width="1.55" height="3.31"/><rect x="118.66" y="262.80" width="1.55" height="5.09"/><rect x="122.38" y="262.07" width="1.55" height="11.81"/><rect x="127.97" y="256.08" width="1.55" height="1.00"/><rect x="129.82" y="256.06" width="1.55" height="5.40"/><rect x="140.98" y="232.85" width="1.55" height="4.87"/><rect x="142.84" y="236.31" width="1.55" height="4.86"/><rect x="146.56" y="220.17" width="1.55" height="6.25"/><rect x="148.42" y="227.08" width="1.55" height="2.10"/><rect x="150.28" y="228.89" width="1.55" height="11.50"/><rect x="152.14" y="239.72" width="1.55" height="21.77"/><rect x="154.00" y="259.41" width="1.55" height="2.72"/><rect x="161.44" y="227.94" width="1.55" height="3.16"/><rect x="163.31" y="231.94" width="1.55" height="4.34"/><rect x="165.16" y="236.89" width="1.55" height="1.00"/><rect x="172.60" y="180.91" width="1.55" height="1.90"/><rect x="174.47" y="182.81" width="1.55" height="1.82"/><rect x="176.32" y="184.77" width="1.55" height="12.23"/><rect x="180.04" y="196.90" width="1.55" height="14.37"/><rect x="181.91" y="211.86" width="1.55" height="22.58"/><rect x="187.48" y="232.91" width="1.55" height="1.00"/><rect x="189.34" y="234.38" width="1.55" height="1.00"/><rect x="198.64" y="224.94" width="1.55" height="1.36"/><rect x="206.09" y="196.76" width="1.55" height="21.98"/><rect x="215.38" y="186.25" width="1.55" height="1.00"/><rect x="219.10" y="172.95" width="1.55" height="14.95"/><rect x="222.82" y="169.09" width="1.55" height="8.20"/><rect x="232.12" y="110.85" width="1.55" height="9.00"/><rect x="235.84" y="83.21" width="1.55" height="37.23"/><rect x="241.43" y="109.45" width="1.55" height="39.95"/><rect x="243.28" y="147.49" width="1.55" height="2.29"/><rect x="248.87" y="133.60" width="1.55" height="6.71"/><rect x="250.72" y="142.00" width="1.55" height="8.15"/><rect x="252.59" y="150.17" width="1.55" height="10.53"/><rect x="258.17" y="123.44" width="1.55" height="5.41"/><rect x="260.03" y="129.42" width="1.55" height="28.16"/><rect x="263.75" y="158.50" width="1.55" height="2.44"/><rect x="267.47" y="160.43" width="1.55" height="6.52"/><rect x="269.33" y="165.65" width="1.55" height="3.44"/><rect x="271.19" y="168.85" width="1.55" height="5.38"/><rect x="273.05" y="173.07" width="1.55" height="5.94"/><rect x="284.21" y="121.70" width="1.55" height="1.00"/><rect x="289.79" y="116.37" width="1.55" height="30.01"/><rect x="291.65" y="146.62" width="1.55" height="9.83"/><rect x="293.51" y="156.42" width="1.55" height="30.73"/><rect x="295.37" y="187.75" width="1.55" height="5.24"/><rect x="297.23" y="192.55" width="1.55" height="11.57"/><rect x="299.09" y="204.37" width="1.55" height="9.55"/><rect x="300.95" y="213.92" width="1.55" height="12.97"/><rect x="302.81" y="225.48" width="1.55" height="18.06"/><rect x="306.53" y="242.81" width="1.55" height="5.08"/><rect x="312.11" y="236.59" width="1.55" height="22.73"/><rect x="313.97" y="259.51" width="1.55" height="1.29"/><rect x="315.83" y="261.17" width="1.55" height="20.50"/><rect x="317.69" y="282.52" width="1.55" height="18.27"/><rect x="321.41" y="292.20" width="1.55" height="24.71"/><rect x="326.99" y="288.03" width="1.55" height="1.41"/><rect x="328.85" y="288.19" width="1.55" height="6.10"/><rect x="332.57" y="279.82" width="1.55" height="1.00"/><rect x="334.43" y="280.72" width="1.55" height="1.00"/><rect x="338.15" y="271.36" width="1.55" height="2.01"/><rect x="343.73" y="270.50" width="1.55" height="20.06"/><rect x="349.31" y="259.91" width="1.55" height="16.39"/><rect x="356.75" y="266.98" width="1.55" height="17.09"/><rect x="360.47" y="274.50" width="1.55" height="17.42"/><rect x="362.33" y="291.63" width="1.55" height="19.17"/><rect x="367.91" y="283.64" width="1.55" height="4.43"/><rect x="369.77" y="288.47" width="1.55" height="1.19"/><rect x="373.49" y="281.11" width="1.55" height="13.35"/><rect x="375.35" y="295.14" width="1.55" height="6.38"/><rect x="377.21" y="302.78" width="1.55" height="7.54"/><rect x="380.93" y="302.16" width="1.55" height="17.17"/><rect x="382.79" y="319.86" width="1.55" height="12.20"/><rect x="384.65" y="332.89" width="1.55" height="9.18"/><rect x="386.51" y="340.51" width="1.55" height="16.47"/><rect x="388.37" y="356.42" width="1.55" height="1.85"/><rect x="392.09" y="354.33" width="1.55" height="29.38"/><rect x="399.53" y="380.15" width="1.55" height="5.34"/><rect x="401.39" y="385.31" width="1.55" height="8.48"/><rect x="403.25" y="393.13" width="1.55" height="22.31"/><rect x="410.69" y="402.91" width="1.55" height="1.00"/><rect x="414.41" y="401.62" width="1.55" height="1.00"/><rect x="416.27" y="401.99" width="1.55" height="7.84"/><rect x="418.13" y="410.18" width="1.55" height="6.40"/><rect x="427.43" y="337.17" width="1.55" height="1.48"/><rect x="429.29" y="337.30" width="1.55" height="15.87"/><rect x="434.87" y="342.68" width="1.55" height="16.85"/><rect x="440.45" y="326.11" width="1.55" height="4.05"/><rect x="442.31" y="331.03" width="1.55" height="9.01"/><rect x="446.03" y="321.54" width="1.55" height="20.78"/><rect x="447.89" y="342.59" width="1.55" height="4.16"/><rect x="449.75" y="346.41" width="1.55" height="15.75"/><rect x="451.61" y="361.67" width="1.55" height="28.97"/><rect x="455.33" y="389.78" width="1.55" height="4.04"/><rect x="462.77" y="385.29" width="1.55" height="12.54"/><rect x="464.63" y="397.82" width="1.55" height="3.98"/><rect x="466.49" y="401.67" width="1.55" height="16.64"/><rect x="468.35" y="416.85" width="1.55" height="16.03"/><rect x="470.21" y="432.98" width="1.55" height="6.52"/><rect x="485.09" y="359.82" width="1.55" height="4.12"/><rect x="486.95" y="365.49" width="1.55" height="1.01"/><rect x="488.81" y="365.90" width="1.55" height="13.24"/><rect x="490.67" y="380.19" width="1.55" height="10.16"/><rect x="496.25" y="365.94" width="1.55" height="13.05"/><rect x="499.97" y="363.95" width="1.55" height="29.34"/><rect x="501.83" y="393.30" width="1.55" height="4.99"/><rect x="503.69" y="399.34" width="1.55" height="14.78"/><rect x="516.71" y="310.34" width="1.55" height="15.29"/><rect x="518.57" y="325.71" width="1.55" height="13.96"/><rect x="520.43" y="340.71" width="1.55" height="4.54"/><rect x="522.29" y="344.80" width="1.55" height="21.34"/><rect x="524.15" y="366.65" width="1.55" height="19.55"/><rect x="526.00" y="386.26" width="1.55" height="8.89"/><rect x="527.87" y="394.28" width="1.55" height="26.69"/><rect x="535.31" y="406.54" width="1.55" height="7.38"/><rect x="540.88" y="371.46" width="1.55" height="8.93"/><rect x="546.47" y="369.37" width="1.55" height="9.74"/><rect x="548.33" y="380.20" width="1.55" height="3.00"/><rect x="550.19" y="383.22" width="1.55" height="1.00"/><rect x="553.91" y="365.75" width="1.55" height="17.95"/><rect x="557.62" y="328.21" width="1.55" height="1.33"/><rect x="563.21" y="294.01" width="1.55" height="12.25"/><rect x="572.50" y="274.85" width="1.55" height="11.76"/><rect x="574.37" y="287.63" width="1.55" height="16.83"/><rect x="576.23" y="304.20" width="1.55" height="3.97"/><rect x="581.81" y="284.47" width="1.55" height="1.00"/><rect x="583.67" y="287.10" width="1.55" height="1.00"/><rect x="585.53" y="287.01" width="1.55" height="6.77"/><rect x="587.38" y="294.47" width="1.55" height="14.46"/><rect x="594.83" y="221.27" width="1.55" height="25.83"/><rect x="596.69" y="246.83" width="1.55" height="11.18"/><rect x="604.12" y="209.73" width="1.55" height="2.61"/><rect x="609.71" y="193.47" width="1.55" height="29.35"/><rect x="611.57" y="223.84" width="1.55" height="1.00"/><rect x="615.29" y="222.14" width="1.55" height="4.15"/><rect x="619.00" y="182.00" width="1.55" height="8.76"/><rect x="620.87" y="191.60" width="1.55" height="13.91"/><rect x="626.45" y="189.12" width="1.55" height="19.02"/><rect x="632.03" y="183.88" width="1.55" height="1.00"/><rect x="633.88" y="184.12" width="1.55" height="10.44"/><rect x="635.75" y="195.62" width="1.55" height="24.74"/><rect x="641.33" y="191.18" width="1.55" height="12.45"/><rect x="643.19" y="203.54" width="1.55" height="7.60"/><rect x="648.77" y="178.42" width="1.55" height="1.45"/><rect x="650.62" y="179.94" width="1.55" height="13.68"/><rect x="652.49" y="194.13" width="1.55" height="6.28"/><rect x="654.35" y="200.05" width="1.55" height="10.64"/><rect x="658.07" y="188.62" width="1.55" height="2.69"/><rect x="659.93" y="193.35" width="1.55" height="20.88"/><rect x="663.65" y="190.34" width="1.55" height="1.37"/><rect x="665.50" y="191.19" width="1.55" height="16.08"/><rect x="669.23" y="206.29" width="1.55" height="1.00"/><rect x="672.95" y="188.55" width="1.55" height="27.51"/><rect x="674.81" y="215.28" width="1.55" height="44.59"/><rect x="676.67" y="259.77" width="1.55" height="1.16"/><rect x="678.53" y="260.43" width="1.55" height="2.32"/><rect x="682.25" y="260.30" width="1.55" height="14.57"/><rect x="685.97" y="271.70" width="1.55" height="3.57"/><rect x="687.83" y="275.02" width="1.55" height="2.01"/><rect x="689.69" y="276.82" width="1.55" height="9.74"/><rect x="691.55" y="286.57" width="1.55" height="4.22"/><rect x="695.27" y="283.36" width="1.55" height="4.79"/><rect x="698.99" y="273.34" width="1.55" height="13.89"/><rect x="700.85" y="287.43" width="1.55" height="23.38"/><rect x="704.57" y="311.61" width="1.55" height="6.52"/><rect x="706.43" y="319.48" width="1.55" height="1.89"/><rect x="715.73" y="296.98" width="1.55" height="9.76"/><rect x="717.59" y="305.70" width="1.55" height="39.61"/><rect x="723.17" y="318.21" width="1.55" height="3.21"/><rect x="732.47" y="246.60" width="1.55" height="5.70"/></g>
<rect x="673.5" y="186.5" width="146.5" height="4" fill="#fff" stroke="#606060" stroke-width="1"/><rect x="516.5" y="305.5" width="300.5" height="2.7" fill="#fff" stroke="#8a8a8a" stroke-width="1"/><line x1="664.3" y1="250.1" x2="717.7" y2="358.5" stroke="#fb8c12" stroke-width="1.9" stroke-linecap="round"/><line x1="688.6" y1="237.3" x2="725.8" y2="297.3" stroke="#fb8c12" stroke-width="1.9" stroke-linecap="round"/><path d="M766.8 228.6 L767.4 228.4 L778.4 204 L781.2 203.6 L779.9 195.5 L774.2 200.9 L775.8 201.8 Z" fill="#2d9b78" stroke="#2d9b78" stroke-width="0.3" stroke-linejoin="round"/><path d="M769.9 256.3 L771 255.7 L784.8 283.1 L787.4 281.7 L786.6 289.6 L780 285.7 L782.2 284.5 Z" fill="#f51414" stroke="#f51414" stroke-width="0.3" stroke-linejoin="round"/>
<rect x="888.1" y="45" width="1" height="423.6" fill="#b4b4b4"/><rect x="0" y="467.6" width="889" height="1" fill="#b8b8b8"/><rect x="889" y="467.10" width="2" height="0.8" fill="#888"/><rect x="889" y="428.35" width="2" height="0.8" fill="#888"/><rect x="889" y="389.60" width="2" height="0.8" fill="#888"/><rect x="889" y="350.85" width="2" height="0.8" fill="#888"/><rect x="889" y="312.10" width="2" height="0.8" fill="#888"/><rect x="889" y="273.35" width="2" height="0.8" fill="#888"/><rect x="889" y="234.60" width="2" height="0.8" fill="#888"/><rect x="889" y="195.85" width="2" height="0.8" fill="#888"/><rect x="889" y="157.10" width="2" height="0.8" fill="#888"/><rect x="889" y="118.35" width="2" height="0.8" fill="#888"/><rect x="889" y="79.60" width="2" height="0.8" fill="#888"/><rect x="25.0" y="468.4" width="1" height="2.4" fill="#aaa"/><rect x="105.0" y="468.4" width="1" height="2.4" fill="#aaa"/><rect x="145.0" y="468.4" width="1" height="2.4" fill="#aaa"/><rect x="187.0" y="468.4" width="1" height="2.4" fill="#aaa"/><rect x="267.0" y="468.4" width="1" height="2.4" fill="#aaa"/><rect x="346.0" y="468.4" width="1" height="2.4" fill="#aaa"/><rect x="427.5" y="468.4" width="1" height="2.4" fill="#aaa"/><rect x="510.5" y="468.4" width="1" height="2.4" fill="#aaa"/><rect x="590.5" y="468.4" width="1" height="2.4" fill="#aaa"/><rect x="629.5" y="468.4" width="1" height="2.4" fill="#aaa"/><rect x="671.0" y="468.4" width="1" height="2.4" fill="#aaa"/><rect x="753.0" y="468.4" width="1" height="2.4" fill="#aaa"/><rect x="849.0" y="468.4" width="1" height="2.4" fill="#aaa"/><path d="M889.2 245.8 L893 241.9 L907 241.9 Q908 241.9 908 242.9 L908 248.7 Q908 249.7 907 249.7 L893 249.7 Z" fill="#5a55ae"/><path d="M764.6 456.2 L768.3 459.6" stroke="#444" stroke-width="2" stroke-linecap="round"/><path d="M767 460.4 L769.6 460.8 L769.2 458.2 Z" fill="#444"/><path d="M775.6 461 Q775.6 458.6 777.6 458.5 L779.8 458.4 Q781.9 458.2 781.7 455.1" fill="none" stroke="#555" stroke-width="1.3" stroke-linecap="round"/><g fill="#7a7a7a"><rect x="785.2" y="453.3" width="9.7" height="1.3"/><rect x="785.2" y="462.2" width="9.7" height="1.2"/><rect x="785.2" y="455.6" width="1.6" height="1.3"/><rect x="789.1" y="455.6" width="2" height="1.3"/><rect x="793.2" y="455.6" width="1.7" height="1.3"/><rect x="785.2" y="459.9" width="1.6" height="1.3"/><rect x="789.1" y="459.9" width="2" height="1.3"/><rect x="793.2" y="459.9" width="1.7" height="1.3"/></g><path d="M785.2 458.1H794.9" stroke="#c8c8c8" stroke-width="0.6" stroke-dasharray="1 0.8"/><rect x="796.3" y="454" width="1.3" height="8.7" fill="#d4d4d4"/><rect x="796.8" y="462" width="9.2" height="1.4" fill="#d4d4d4"/><path d="M797.6 462.3L801.5 455M797.6 462.3L805 458.2" stroke="#555" stroke-width="0.6" stroke-dasharray="0.9 0.5"/><circle cx="797.6" cy="462.3" r="0.8" fill="#333"/><rect x="808.2" y="457.8" width="9.4" height="1" fill="#777"/><path d="M820.9 454.8L828.1 461.8" stroke="#555" stroke-width="0.7"/><circle cx="820.9" cy="454.8" r="0.95" fill="#333"/><circle cx="828.1" cy="461.8" r="0.95" fill="#333"/><rect x="832.6" y="454.6" width="6.6" height="7.5" rx="0.6" fill="none" stroke="#8a8a8a" stroke-width="0.9"/><text x="843.3" y="458.9" font-size="3.8" font-weight="bold" fill="#aaa" font-family="Liberation Sans">Abc</text><rect x="843.2" y="459.4" width="8.5" height="1.2" fill="#b0b0b0"/><path d="M855.2 461.6L861.8 455.3" stroke="#777" stroke-width="0.8" stroke-dasharray="0.8 0.3"/><rect x="870.1" y="454.2" width="1" height="8.9" fill="#666"/><path d="M878.3 456.2L881.9 460.2M881.9 456.2L878.3 460.2" stroke="#555" stroke-width="1"/>
</svg>
<div class="t" id="ya1700" style="left:892px;top:465.8px;font-size:5.2px;font-weight:normal;color:#5a5a5a;transform:scaleX(0.9526);transform-origin:0 0;">1700</div><div class="t" id="ya1800" style="left:892px;top:427.05px;font-size:5.2px;font-weight:normal;color:#5a5a5a;transform:scaleX(0.9526);transform-origin:0 0;">1800</div><div class="t" id="ya1900" style="left:892px;top:388.3px;font-size:5.2px;font-weight:normal;color:#5a5a5a;transform:scaleX(0.9526);transform-origin:0 0;">1900</div><div class="t" id="ya2000" style="left:892px;top:349.55px;font-size:5.2px;font-weight:normal;color:#5a5a5a;transform:scaleX(0.9526);transform-origin:0 0;">2000</div><div class="t" id="ya2100" style="left:892px;top:310.8px;font-size:5.2px;font-weight:normal;color:#5a5a5a;transform:scaleX(0.9526);transform-origin:0 0;">2100</div><div class="t" id="ya2200" style="left:892px;top:272.05px;font-size:5.2px;font-weight:normal;color:#5a5a5a;transform:scaleX(0.9526);transform-origin:0 0;">2200</div><div class="t" id="ya2300" style="left:892px;top:233.3px;font-size:5.2px;font-weight:normal;color:#5a5a5a;transform:scaleX(0.9526);transform-origin:0 0;">2300</div><div class="t" id="ya2400" style="left:892px;top:194.55px;font-size:5.2px;font-weight:normal;color:#5a5a5a;transform:scaleX(0.9526);transform-origin:0 0;">2400</div><div class="t" id="ya2500" style="left:892px;top:155.8px;font-size:5.2px;font-weight:normal;color:#5a5a5a;transform:scaleX(0.9526);transform-origin:0 0;">2500</div><div class="t" id="ya2600" style="left:892px;top:117.05px;font-size:5.2px;font-weight:normal;color:#5a5a5a;transform:scaleX(0.9526);transform-origin:0 0;">2600</div><div class="t" id="ya2700" style="left:892px;top:78.3px;font-size:5.2px;font-weight:normal;color:#5a5a5a;transform:scaleX(0.9526);transform-origin:0 0;">2700</div><div class="t" id="tag" style="left:895.5px;top:244.0px;font-size:5.4px;font-weight:bold;color:#fff;transform:scaleX(0.9167);transform-origin:0 0;">2272</div><div class="t" style="left:5.5px;width:40px;text-align:center;top:470.6px;font-size:6.3px;color:#5a5a5a;">Oct</div><div class="t" style="left:85.5px;width:40px;text-align:center;top:470.6px;font-size:6.3px;color:#5a5a5a;">Dec</div><div class="t" style="left:125.5px;width:40px;text-align:center;top:470.6px;font-size:6.3px;color:#5a5a5a;">2022</div><div class="t" style="left:167.5px;width:40px;text-align:center;top:470.6px;font-size:6.3px;color:#5a5a5a;">Feb</div><div class="t" style="left:247.5px;width:40px;text-align:center;top:470.6px;font-size:6.3px;color:#5a5a5a;">Apr</div><div class="t" style="left:326.5px;width:40px;text-align:center;top:470.6px;font-size:6.3px;color:#5a5a5a;">Jun</div><div class="t" style="left:408px;width:40px;text-align:center;top:470.6px;font-size:6.3px;color:#5a5a5a;">Aug</div><div class="t" style="left:491px;width:40px;text-align:center;top:470.6px;font-size:6.3px;color:#5a5a5a;">Oct</div><div class="t" style="left:571px;width:40px;text-align:center;top:470.6px;font-size:6.3px;color:#5a5a5a;">Dec</div><div class="t" style="left:610px;width:40px;text-align:center;top:470.6px;font-size:6.3px;color:#5a5a5a;">2023</div><div class="t" style="left:651.5px;width:40px;text-align:center;top:470.6px;font-size:6.3px;color:#5a5a5a;">Feb</div><div class="t" style="left:733.5px;width:40px;text-align:center;top:470.6px;font-size:6.3px;color:#5a5a5a;">Apr</div><div class="t" style="left:829.5px;width:40px;text-align:center;top:470.6px;font-size:6.3px;color:#5a5a5a;">Jun</div><div class="t" id="ctitle" style="left:7.7px;top:53.5px;font-size:5.6px;font-weight:bold;color:#333;transform:scaleX(0.9649);transform-origin:0 0;">SILVER, DAILY MAY</div><div class="t" id="lab0" style="left:5px;top:453.1px;font-size:4.6px;font-weight:normal;color:#a0a0a0;transform:scaleX(1.0342);transform-origin:0 0;">TODAY:</div><div class="t" id="h0" style="left:30px;top:453.1px;font-size:4.6px;font-weight:normal;color:#a0a0a0;">H:</div><div class="t" id="hv0" style="left:36.4px;top:453.1px;font-size:4.6px;font-weight:normal;color:#333;transform:scaleX(1.0777);transform-origin:0 0;">2284.25</div><div class="t" id="l0" style="left:59px;top:453.1px;font-size:4.6px;font-weight:normal;color:#a0a0a0;">L:</div><div class="t" id="lv0" style="left:64px;top:453.1px;font-size:4.6px;font-weight:normal;color:#333;transform:scaleX(1.0837);transform-origin:0 0;">2237.75</div><div class="t" id="ch0" style="left:88.6px;top:453.1px;font-size:4.6px;font-weight:normal;color:#2a9fb0;transform:scaleX(1.1130);transform-origin:0 0;">12.75</div><div class="t" id="pc0" style="left:111.9px;top:453.1px;font-size:4.6px;font-weight:normal;color:#2a9fb0;transform:scaleX(1.0492);transform-origin:0 0;">0.6%</div><div class="t" id="lab1" style="left:5px;top:459.2px;font-size:4.6px;font-weight:normal;color:#a0a0a0;transform:scaleX(1.0293);transform-origin:0 0;">CHART:</div><div class="t" id="h1" style="left:30px;top:459.2px;font-size:4.6px;font-weight:normal;color:#a0a0a0;">H:</div><div class="t" id="hv1" style="left:36.4px;top:459.2px;font-size:4.6px;font-weight:normal;color:#333;transform:scaleX(1.0777);transform-origin:0 0;">2749.75</div><div class="t" id="l1" style="left:59px;top:459.2px;font-size:4.6px;font-weight:normal;color:#a0a0a0;">L:</div><div class="t" id="lv1" style="left:64px;top:459.2px;font-size:4.6px;font-weight:normal;color:#333;transform:scaleX(1.0837);transform-origin:0 0;">1740.75</div><div class="t" id="ch1" style="left:87.5px;top:459.2px;font-size:4.6px;font-weight:normal;color:#d23a3a;transform:scaleX(1.1543);transform-origin:0 0;">-106.50</div><div class="t" id="pc1" style="left:111.9px;top:459.2px;font-size:4.6px;font-weight:normal;color:#d23a3a;transform:scaleX(1.0403);transform-origin:0 0;">-4.5%</div>
</body></html>
